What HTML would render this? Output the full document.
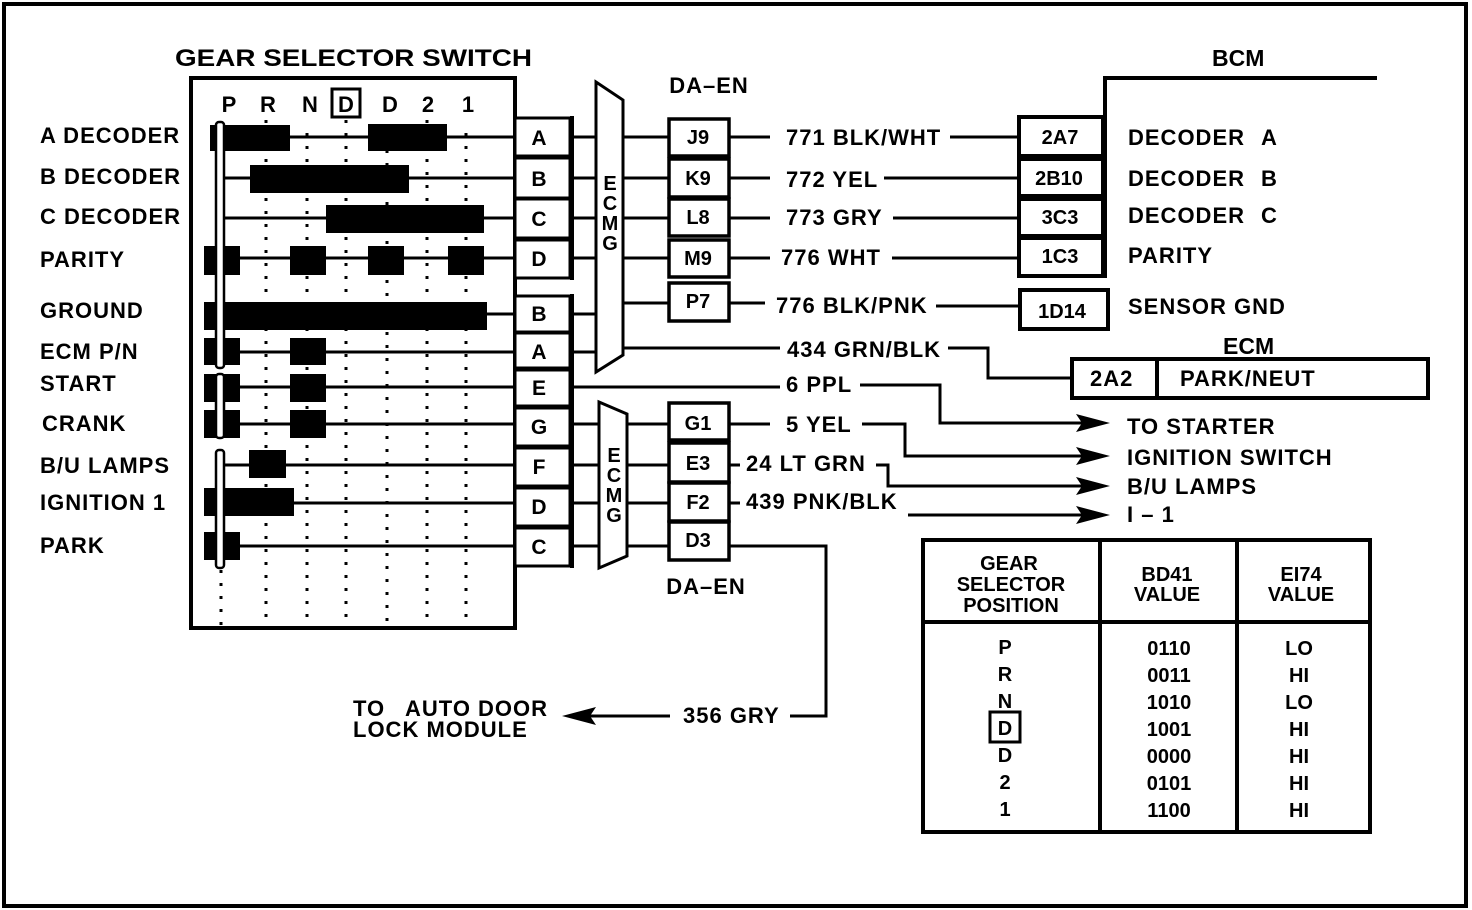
<!DOCTYPE html>
<html><head><meta charset="utf-8"><style>
html,body{margin:0;padding:0;background:#fff}
svg{display:block}
text{font-family:"Liberation Sans",Arial,sans-serif;font-weight:bold;fill:#000}
.w{font-size:22px;letter-spacing:1px}
</style></head><body>
<svg width="1472" height="910" viewBox="0 0 1472 910" xmlns="http://www.w3.org/2000/svg">
<rect x="4" y="4" width="1462" height="902" fill="#fff" stroke="#000" stroke-width="4"/>
<g class="w">
<text x="175" y="66" textLength="357" lengthAdjust="spacingAndGlyphs" style="font-size:24px;letter-spacing:0">GEAR SELECTOR SWITCH</text>
<text x="40" y="143">A DECODER</text>
<text x="40" y="184">B DECODER</text>
<text x="40" y="224">C DECODER</text>
<text x="40" y="267">PARITY</text>
<text x="40" y="318">GROUND</text>
<text x="40" y="359">ECM P/N</text>
<text x="40" y="391">START</text>
<text x="42" y="431">CRANK</text>
<text x="40" y="473">B/U LAMPS</text>
<text x="40" y="510">IGNITION 1</text>
<text x="40" y="553">PARK</text>
</g>
<!-- switch box -->
<rect x="191" y="78" width="324" height="550" fill="none" stroke="#000" stroke-width="4"/>
<g font-size="22" text-anchor="middle">
<text x="229" y="112">P</text><text x="268" y="112">R</text><text x="310" y="112">N</text>
<text x="346" y="112">D</text><text x="390" y="112">D</text><text x="428" y="112">2</text><text x="468" y="112">1</text>
</g>
<rect x="332" y="89" width="28" height="28" fill="none" stroke="#000" stroke-width="3"/>
<g stroke="#000" stroke-width="3" stroke-dasharray="3 10">
<line x1="266" y1="120" x2="266" y2="625"/><line x1="307" y1="133" x2="307" y2="625"/>
<line x1="346" y1="120" x2="346" y2="625"/><line x1="387" y1="150" x2="387" y2="625"/>
<line x1="427" y1="120" x2="427" y2="625"/><line x1="466" y1="133" x2="466" y2="625"/>
<line x1="221" y1="570" x2="221" y2="625"/>
</g>
<g stroke="#000" stroke-width="3">
<line x1="220" y1="137" x2="515" y2="137"/><line x1="220" y1="178" x2="515" y2="178"/>
<line x1="220" y1="218" x2="515" y2="218"/><line x1="220" y1="258" x2="515" y2="258"/>
<line x1="220" y1="314" x2="515" y2="314"/><line x1="220" y1="352" x2="515" y2="352"/>
<line x1="220" y1="387" x2="515" y2="387"/><line x1="220" y1="424" x2="515" y2="424"/>
<line x1="220" y1="465" x2="515" y2="465"/><line x1="220" y1="503" x2="515" y2="503"/>
<line x1="220" y1="546" x2="515" y2="546"/>
</g>
<g fill="#000">
<rect x="210" y="125" width="80" height="26"/><rect x="368" y="124" width="79" height="27"/>
<rect x="250" y="165" width="159" height="28"/>
<rect x="326" y="205" width="158" height="28"/>
<rect x="204" y="246" width="36" height="29"/><rect x="290" y="246" width="36" height="29"/><rect x="368" y="246" width="36" height="29"/><rect x="448" y="246" width="36" height="29"/>
<rect x="204" y="302" width="283" height="28"/>
<rect x="204" y="338" width="36" height="27"/><rect x="290" y="338" width="36" height="27"/>
<rect x="204" y="374" width="36" height="28"/><rect x="290" y="374" width="36" height="28"/>
<rect x="204" y="410" width="36" height="28"/><rect x="290" y="410" width="36" height="28"/>
<rect x="249" y="450" width="37" height="28"/>
<rect x="204" y="488" width="90" height="28"/>
<rect x="204" y="532" width="36" height="28"/>
</g>
<g fill="#fff" stroke="#000" stroke-width="2.5">
<rect x="216" y="122" width="8" height="246" rx="3"/>
<rect x="216" y="374" width="8" height="64" rx="3"/>
<rect x="216" y="450" width="8" height="118" rx="3"/>
</g>
<g fill="#fff" stroke="#000" stroke-width="3">
<rect x="515" y="118" width="55" height="38"/><rect x="515" y="158" width="55" height="40"/>
<rect x="515" y="199" width="55" height="39"/><rect x="515" y="240" width="55" height="38"/>
<rect x="515" y="296" width="55" height="36"/><rect x="515" y="333" width="55" height="35"/>
<rect x="515" y="370" width="55" height="36"/><rect x="515" y="408" width="55" height="38"/>
<rect x="515" y="448" width="55" height="38"/><rect x="515" y="488" width="55" height="38"/>
<rect x="515" y="528" width="55" height="38"/>
</g>
<line x1="572" y1="116" x2="572" y2="280" stroke="#000" stroke-width="4"/>
<line x1="572" y1="294" x2="572" y2="568" stroke="#000" stroke-width="4"/>
<g font-size="21" text-anchor="middle">
<text x="539" y="145">A</text><text x="539" y="186">B</text><text x="539" y="226">C</text><text x="539" y="266">D</text>
<text x="539" y="321">B</text><text x="539" y="359">A</text><text x="539" y="395">E</text><text x="539" y="434">G</text>
<text x="539" y="474">F</text><text x="539" y="514">D</text><text x="539" y="554">C</text>
</g>
<g stroke="#000" stroke-width="3" fill="none">
<line x1="572" y1="137" x2="596" y2="137"/><line x1="572" y1="178" x2="596" y2="178"/>
<line x1="572" y1="218" x2="596" y2="218"/><line x1="572" y1="258" x2="596" y2="258"/>
<line x1="572" y1="314" x2="596" y2="314"/><line x1="572" y1="352" x2="596" y2="352"/>
<line x1="572" y1="387" x2="780" y2="387"/>
<line x1="572" y1="424" x2="599" y2="424"/><line x1="572" y1="465" x2="599" y2="465"/>
<line x1="572" y1="503" x2="599" y2="503"/><line x1="572" y1="546" x2="599" y2="546"/>
<line x1="623" y1="137" x2="669" y2="137"/><line x1="623" y1="178" x2="669" y2="178"/>
<line x1="623" y1="218" x2="669" y2="218"/><line x1="623" y1="258" x2="669" y2="258"/>
<line x1="623" y1="303" x2="669" y2="303"/><line x1="623" y1="348" x2="780" y2="348"/>
<line x1="627" y1="424" x2="669" y2="424"/><line x1="627" y1="465" x2="669" y2="465"/>
<line x1="627" y1="503" x2="669" y2="503"/><line x1="627" y1="546" x2="669" y2="546"/>
</g>
<polygon points="596,82 623,100 623,355 596,372" fill="#fff" stroke="#000" stroke-width="3"/>
<polygon points="599,402 627,414 627,556 599,568" fill="#fff" stroke="#000" stroke-width="3"/>
<g font-size="20" text-anchor="middle">
<text x="610" y="190">E</text><text x="610" y="210">C</text><text x="610" y="230">M</text><text x="610" y="250">G</text>
<text x="614" y="462">E</text><text x="614" y="482">C</text><text x="614" y="502">M</text><text x="614" y="522">G</text>
</g>
<g class="w" text-anchor="middle"><text x="709" y="93">DA–EN</text><text x="706" y="594">DA–EN</text></g>
<g fill="#fff" stroke="#000" stroke-width="3.5">
<rect x="669" y="119" width="60" height="37"/><rect x="669" y="159" width="60" height="38"/>
<rect x="669" y="199" width="60" height="37"/><rect x="669" y="240" width="60" height="37"/>
<rect x="669" y="283" width="60" height="38"/>
<rect x="669" y="403" width="60" height="37"/><rect x="669" y="443" width="60" height="39"/>
<rect x="669" y="483" width="60" height="38"/><rect x="669" y="522" width="60" height="38"/>
</g>
<g font-size="20" text-anchor="middle">
<text x="698" y="144">J9</text><text x="698" y="185">K9</text><text x="698" y="224">L8</text><text x="698" y="265">M9</text><text x="698" y="308">P7</text>
<text x="698" y="430">G1</text><text x="698" y="470">E3</text><text x="698" y="509">F2</text><text x="698" y="547">D3</text>
</g>
<g class="w">
<text x="786" y="145">771 BLK/WHT</text>
<text x="786" y="187">772 YEL</text>
<text x="786" y="225">773 GRY</text>
<text x="781" y="265">776 WHT</text>
<text x="776" y="313">776 BLK/PNK</text>
<text x="787" y="357">434 GRN/BLK</text>
<text x="786" y="392">6 PPL</text>
<text x="786" y="432">5 YEL</text>
<text x="746" y="471">24 LT GRN</text>
<text x="746" y="509">439 PNK/BLK</text>
<text x="683" y="723">356 GRY</text>
<text x="353" y="716">TO<tspan x="405">AUTO DOOR</tspan></text>
<text x="353" y="737">LOCK MODULE</text>
</g>
<g stroke="#000" stroke-width="3" fill="none">
<line x1="729" y1="137" x2="770" y2="137"/><line x1="950" y1="137" x2="1020" y2="137"/>
<line x1="729" y1="178" x2="770" y2="178"/><line x1="884" y1="178" x2="1020" y2="178"/>
<line x1="729" y1="218" x2="770" y2="218"/><line x1="893" y1="218" x2="1020" y2="218"/>
<line x1="729" y1="258" x2="770" y2="258"/><line x1="892" y1="258" x2="1020" y2="258"/>
<line x1="729" y1="303" x2="765" y2="303"/><line x1="936" y1="306" x2="1020" y2="306"/>
<polyline points="948,348 988,348 988,378 1072,378"/>
<polyline points="860,385 940,385 940,423 1085,423"/>
<polyline points="729,424 770,424"/>
<polyline points="862,424 905,424 905,456 1085,456"/>
<polyline points="729,465 740,465"/>
<polyline points="729,503 740,503"/>
<polyline points="876,465 888,465 888,486 1085,486"/>
<line x1="908" y1="515" x2="1085" y2="515"/>
<polyline points="729,546 826,546 826,716 790,716"/>
<line x1="670" y1="716" x2="590" y2="716"/>
</g>
<g fill="#000">
<polygon points="1110,423 1076,414 1082,423 1076,432"/>
<polygon points="1110,456 1076,447 1082,456 1076,465"/>
<polygon points="1110,486 1076,477 1082,486 1076,495"/>
<polygon points="1110,515 1076,506 1082,515 1076,524"/>
<polygon points="562,716 596,707 590,716 596,725"/>
</g>
<g class="w">
<text x="1127" y="434">TO STARTER</text>
<text x="1127" y="465">IGNITION SWITCH</text>
<text x="1127" y="494">B/U LAMPS</text>
<text x="1127" y="522">I – 1</text>
</g>
<text x="1212" y="66" font-size="23">BCM</text>
<polyline points="1105,278 1105,78 1377,78" fill="none" stroke="#000" stroke-width="4"/>
<g fill="#fff" stroke="#000" stroke-width="4">
<rect x="1019" y="117" width="84" height="39"/><rect x="1019" y="159" width="84" height="37"/>
<rect x="1019" y="199" width="84" height="37"/><rect x="1019" y="238" width="84" height="38"/>
<rect x="1020" y="290" width="88" height="39"/>
</g>
<g font-size="20" text-anchor="middle">
<text x="1060" y="144">2A7</text><text x="1059" y="185">2B10</text><text x="1060" y="224">3C3</text><text x="1060" y="263">1C3</text><text x="1062" y="318">1D14</text>
</g>
<g class="w">
<text x="1128" y="145">DECODER<tspan x="1261">A</tspan></text>
<text x="1128" y="186">DECODER<tspan x="1261">B</tspan></text>
<text x="1128" y="223">DECODER<tspan x="1261">C</tspan></text>
<text x="1128" y="263">PARITY</text>
<text x="1128" y="314">SENSOR GND</text>
</g>
<text x="1223" y="354" font-size="23">ECM</text>
<rect x="1072" y="359" width="356" height="39" fill="#fff" stroke="#000" stroke-width="4"/>
<line x1="1157" y1="359" x2="1157" y2="398" stroke="#000" stroke-width="4"/>
<g class="w"><text x="1090" y="386">2A2</text><text x="1180" y="386">PARK/NEUT</text></g>
<rect x="923" y="540" width="447" height="292" fill="#fff" stroke="#000" stroke-width="4"/>
<line x1="923" y1="622" x2="1370" y2="622" stroke="#000" stroke-width="4"/>
<line x1="1100" y1="540" x2="1100" y2="832" stroke="#000" stroke-width="4"/>
<line x1="1237" y1="540" x2="1237" y2="832" stroke="#000" stroke-width="4"/>
<g font-size="20" text-anchor="middle">
<text x="1009" y="570">GEAR</text><text x="1011" y="591">SELECTOR</text><text x="1011" y="612">POSITION</text>
<text x="1167" y="581">BD41</text><text x="1167" y="601">VALUE</text>
<text x="1301" y="581">EI74</text><text x="1301" y="601">VALUE</text>
<text x="1005" y="654">P</text><text x="1005" y="681">R</text><text x="1005" y="708">N</text>
<text x="1005" y="735">D</text><text x="1005" y="762">D</text><text x="1005" y="789">2</text><text x="1005" y="816">1</text>
<text x="1169" y="655">0110</text><text x="1169" y="682">0011</text><text x="1169" y="709">1010</text>
<text x="1169" y="736">1001</text><text x="1169" y="763">0000</text><text x="1169" y="790">0101</text><text x="1169" y="817">1100</text>
<text x="1299" y="655">LO</text><text x="1299" y="682">HI</text><text x="1299" y="709">LO</text>
<text x="1299" y="736">HI</text><text x="1299" y="763">HI</text><text x="1299" y="790">HI</text><text x="1299" y="817">HI</text>
</g>
<rect x="990" y="712" width="30" height="30" fill="none" stroke="#000" stroke-width="3"/>
</svg>
</body></html>
